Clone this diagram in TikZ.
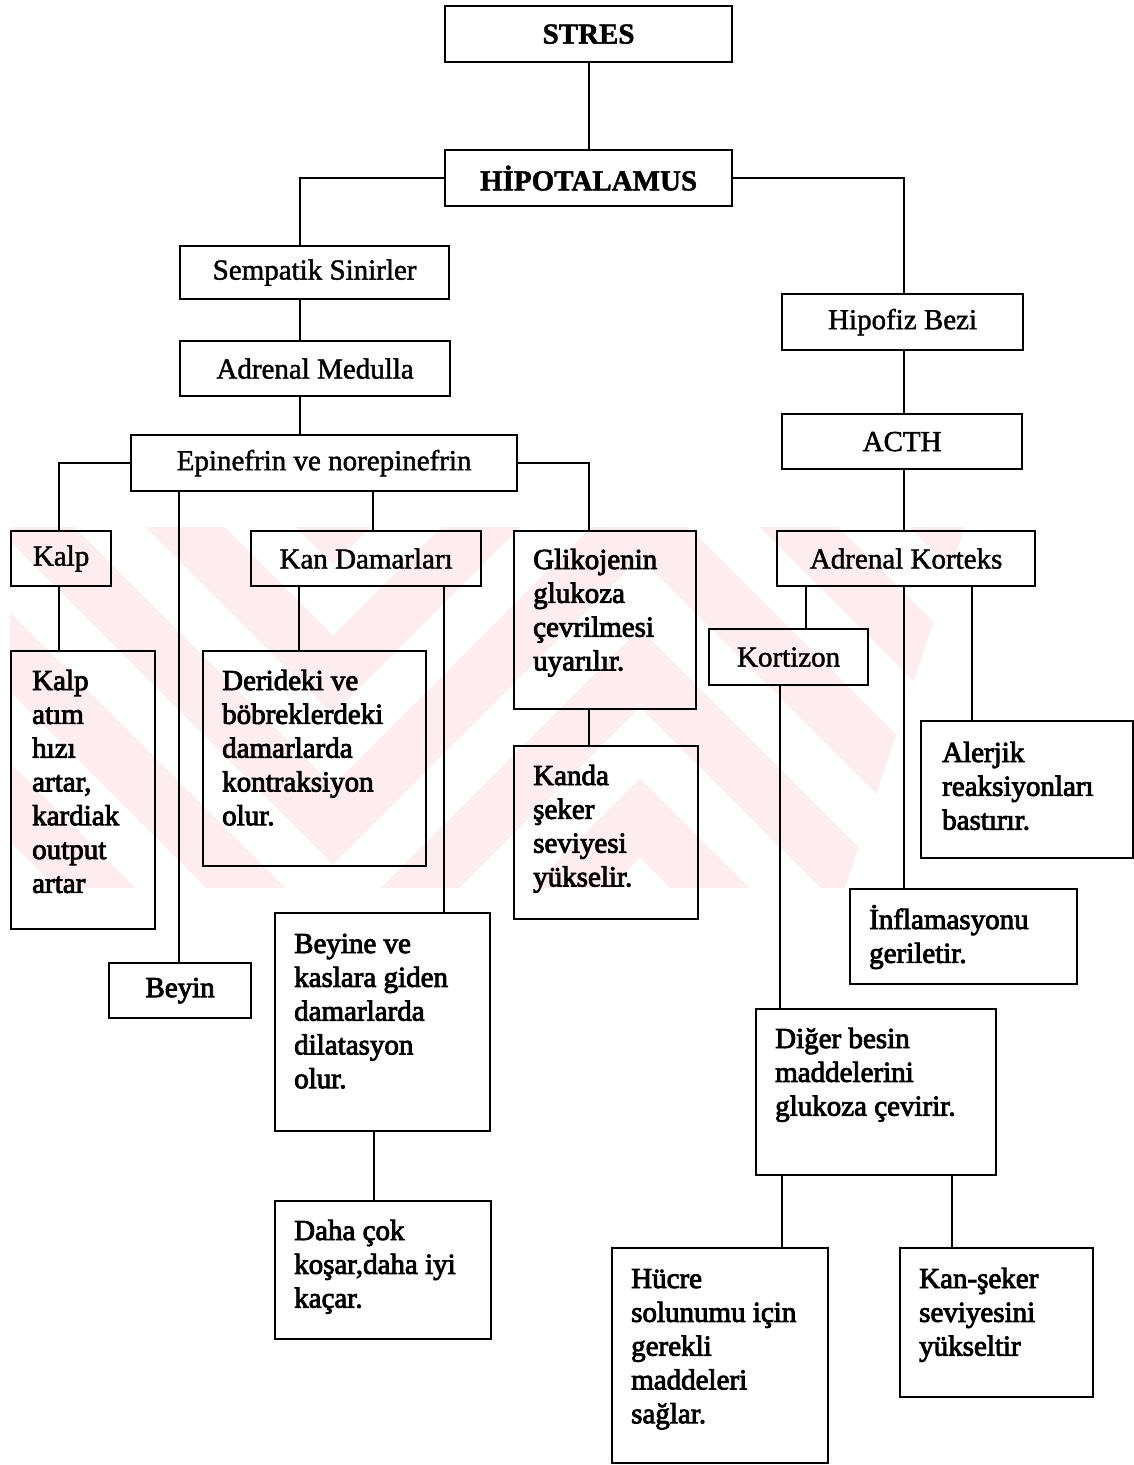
\documentclass[tikz,border=0pt]{standalone}
\usepackage{fontspec}
\setmainfont{Liberation Serif}
\newfontfamily\heavyfont[FakeBold=3]{Liberation Serif}
\newfontfamily\midfont[FakeBold=1.5]{Liberation Serif}
\definecolor{wm}{RGB}{253,237,240}
\tikzset{
  box/.style={draw, line width=2.2pt, inner sep=0pt, anchor=north west,
              font=\midfont\fontsize{29}{33.8}\selectfont},
  txt/.style={anchor=base west, inner sep=0pt,
              font=\heavyfont\fontsize{29}{33.8}\selectfont},
  link/.style={line width=1.9pt},
}
% name, x, y, width, height, text
\newcommand\bx[6]{\node[box, minimum width=#4pt, minimum height=#5pt] (#1) at (#2,#3) {#6};}
% vertical link: from node #1 south shifted by #2 down to node #3 north
\newcommand\vlink[3]{\draw[link] ([xshift=#2pt]#1.south) coordinate (tmp) -- (tmp |- #3.north);}
\begin{document}
\begin{tikzpicture}[x=1pt, y=-1pt]
\useasboundingbox (0,0) rectangle (1134,1465);
% ---- faint watermark ----
\begin{scope}
  \clip (10,527) -- (965,527) -- (845,888) -- (10,888) -- cycle;
  \fill[wm] (0,520) rectangle (1010,890);
  \begin{scope}
    \clip (0,520) rectangle (333,890);
    \foreach \c in {-1017,-867,-717,-567,-417,-267,-117}
      \draw[white, line width=50pt] ({\c+400},400) -- ({\c+1000},1000);
  \end{scope}
  \begin{scope}
    \clip (333,520) rectangle (640,890);
    \foreach \d in {783,933,1083,1233,1383,1533,1683}
      \draw[white, line width=50pt] ({\d-400},400) -- ({\d-1000},1000);
  \end{scope}
  \begin{scope}
    \clip (640,520) rectangle (1010,890);
    \foreach \c in {-403,-253,-103,47,197,347,497,647}
      \draw[white, line width=50pt] ({\c+400},400) -- ({\c+1000},1000);
  \end{scope}
\end{scope}
% ---- boxes ----
\bx{stres}{444}{5}{287}{56}{\textbf{STRES}}
\bx{hipo}{444}{149}{287}{56}{\textbf{HİPOTALAMUS}}
\bx{semp}{179}{245}{269}{53}{Sempatik Sinirler}
\bx{adrmed}{179}{340}{270}{55}{Adrenal Medulla}
\bx{epi}{130}{434}{386}{56}{Epinefrin ve norepinefrin}
\bx{hipofiz}{781}{293}{241}{56}{Hipofiz Bezi}
\bx{acth}{781}{413}{240}{55}{ACTH}
\bx{kalp}{10}{530}{100}{55}{Kalp}
\bx{kan}{250}{530}{230}{55}{Kan Damarları}
\bx{glik}{513}{530}{182}{178}{}
\bx{adrkor}{776}{530}{258}{55}{Adrenal Korteks}
\bx{kortizon}{708}{628}{159}{56}{Kortizon}
\bx{kalpbody}{10}{650}{144}{278}{}
\bx{deri}{202}{650}{223}{215}{}
\bx{kanda}{513}{745}{184}{173}{}
\bx{alerjik}{920}{720}{212}{137}{}
\bx{inflam}{849}{888}{227}{95}{}
\bx{beyine}{274}{912}{215}{218}{}
\bx{beyin}{108}{962}{142}{55}{\heavyfont Beyin}
\bx{diger}{755}{1008}{240}{166}{}
\bx{daha}{274}{1200}{216}{138}{}
\bx{hucre}{611}{1247}{216}{215}{}
\bx{kanseker}{899}{1247}{193}{149}{}
% ---- texts of the large boxes ----
\node[txt] (glik-t) at (533,569) {\parbox[t]{170pt}{Glikojenin\\glukoza\\çevrilmesi\\uyarılır.}};
\node[txt] (kalpbody-t) at (32,690) {\parbox[t]{130pt}{Kalp\\atım\\hızı\\artar,\\kardiak\\output\\artar}};
\node[txt] (deri-t) at (222,690) {\parbox[t]{200pt}{Derideki ve\\böbreklerdeki\\damarlarda\\kontraksiyon\\olur.}};
\node[txt] (kanda-t) at (533,785) {\parbox[t]{160pt}{Kanda\\şeker\\seviyesi\\yükselir.}};
\node[txt] (alerjik-t) at (942,762) {\parbox[t]{190pt}{Alerjik\\reaksiyonları\\bastırır.}};
\node[txt] (inflam-t) at (869,929) {\parbox[t]{200pt}{İnflamasyonu\\geriletir.}};
\node[txt] (beyine-t) at (294,953) {\parbox[t]{190pt}{Beyine ve\\kaslara giden\\damarlarda\\dilatasyon\\olur.}};
\node[txt] (diger-t) at (775,1048) {\parbox[t]{215pt}{Diğer besin\\maddelerini\\glukoza çevirir.}};
\node[txt] (daha-t) at (294,1240) {\parbox[t]{190pt}{Daha çok\\koşar,daha iyi\\kaçar.}};
\node[txt] (hucre-t) at (631,1288) {\parbox[t]{190pt}{Hücre\\solunumu için\\gerekli\\maddeleri\\sağlar.}};
\node[txt] (kanseker-t) at (919,1288) {\parbox[t]{170pt}{Kan-şeker\\seviyesini\\yükseltir}};
% ---- connectors ----
\draw[link] (stres.south) -- (hipo.north);
\draw[link] (hipo.west) -| ([xshift=-14.5pt]semp.north);
\draw[link] (hipo.east) -| ([xshift=1.5pt]hipofiz.north);
\vlink{semp}{-14.5}{adrmed}
\vlink{adrmed}{-15}{epi}
\draw[link] (epi.west) -| ([xshift=-2pt]kalp.north);
\draw[link] (epi.east) -| ([xshift=-16pt]glik.north);
\vlink{epi}{-145}{beyin}
\vlink{epi}{49}{kan}
\vlink{kalp}{-2}{kalpbody}
\vlink{kan}{-67}{deri}
\vlink{kan}{78}{beyine}
\vlink{glik}{-16}{kanda}
\vlink{beyine}{-8.5}{daha}
\vlink{hipofiz}{1.5}{acth}
\vlink{acth}{2}{adrkor}
\vlink{adrkor}{-100}{kortizon}
\vlink{adrkor}{-2}{inflam}
\vlink{adrkor}{66}{alerjik}
\vlink{kortizon}{-8.5}{diger}
\vlink{diger}{-94}{hucre}
\vlink{diger}{76}{kanseker}
\end{tikzpicture}
\end{document}
